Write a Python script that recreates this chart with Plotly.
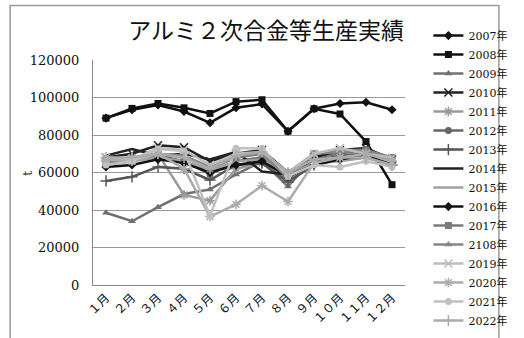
import plotly.graph_objects as go

# 月次カテゴリ
months = ["１月", "２月", "３月", "４月", "５月", "６月",
          "７月", "８月", "９月", "１０月", "１１月", "１２月"]

# 年別生産量 (t)
y2007 = [89000, 93500, 96000, 92500, 86500, 94500, 96500, 82000, 94000, 96800, 97500, 93500]
y2008 = [89000, 94200, 96800, 94500, 91500, 97800, 98800, 82000, 94000, 91200, 76500, 53500]
y2009 = [38500, 34000, 41500, 48500, 51000, 59000, 66000, 52500, 68000, 70000, 72000, 66000]
y2010 = [68000, 70000, 74500, 73500, 66000, 70000, 72000, 60000, 68000, 72000, 73000, 67000]
y2011 = [66000, 68000, 70000, 48000, 45000, 62000, 65000, 56000, 66000, 69000, 71000, 66000]
y2012 = [64000, 66000, 69000, 66000, 59000, 66000, 68000, 57000, 66000, 69000, 70000, 66000]
y2013 = [55500, 57700, 63000, 62000, 56000, 64000, 65000, 55000, 64000, 67000, 68000, 64000]
y2014 = [69000, 72500, 69000, 70000, 67000, 71000, 60500, 59000, 67000, 68000, 70000, 68000]
y2015 = [65000, 66000, 68000, 66000, 61000, 66000, 67000, 59000, 65000, 66000, 68000, 65000]
y2016 = [63000, 64000, 67000, 65000, 60000, 64000, 66000, 58000, 64000, 67000, 69000, 64000]
y2017 = [66000, 67000, 70000, 68000, 62000, 68000, 70000, 60000, 70000, 72000, 72000, 68000]
y2018 = [65000, 67000, 70000, 69000, 63000, 69000, 70000, 57000, 70000, 71000, 72000, 67000]
y2019 = [68000, 67000, 73000, 72000, 64000, 70000, 71000, 60000, 70000, 73000, 70000, 68000]
y2020 = [67000, 66000, 70000, 62000, 36500, 43000, 53000, 44500, 65000, 68000, 70000, 66000]
y2021 = [64000, 66000, 72500, 71500, 37000, 73000, 73000, 58000, 64000, 63000, 66000, 63000]
y2022 = [68000, 68000, 70000, 68000, 62000, 69000, 71000, 60000, 67000, 68000, 68000, 64000]

series = [
    ("2007年", y2007, "#111111", "diamond"),
    ("2008年", y2008, "#111111", "square"),
    ("2009年", y2009, "#707070", "triangle-up"),
    ("2010年", y2010, "#222222", "x-thin"),
    ("2011年", y2011, "#9a9a9a", "asterisk"),
    ("2012年", y2012, "#666666", "circle"),
    ("2013年", y2013, "#555555", "cross-thin"),
    ("2014年", y2014, "#222222", None),
    ("2015年", y2015, "#a0a0a0", None),
    ("2016年", y2016, "#111111", "diamond"),
    ("2017年", y2017, "#7a7a7a", "square"),
    ("2108年", y2018, "#858585", "triangle-up"),
    ("2019年", y2019, "#bdbdbd", "x-thin"),
    ("2020年", y2020, "#acacac", "asterisk"),
    ("2021年", y2021, "#c0c0c0", "circle"),
    ("2022年", y2022, "#ababab", "cross-thin"),
]

SERIF = "'DejaVu Serif', 'Noto Sans CJK JP', serif"

fig = go.Figure()
for name, vals, color, sym in series:
    if sym is None:
        mode = "lines"
        marker = None
    else:
        mode = "lines+markers"
        thin = sym in ("x-thin", "asterisk", "cross-thin")
        marker = dict(symbol=sym, size=8 if thin else 7, color=color,
                      line=dict(color=color, width=1.5 if thin else 0))
    fig.add_trace(go.Scatter(
        x=months, y=vals, name=name, mode=mode,
        line=dict(color=color, width=2.5),
        marker=marker,
    ))

L, R, T, B = 93, 432, 60, 287
W, H = 524, 338

fig.update_layout(
    width=W, height=H,
    margin=dict(l=L, r=W - R, t=T, b=H - B),
    paper_bgcolor="white",
    plot_bgcolor="white",
    font=dict(family=SERIF, color="#111111", size=11),
    title=dict(
        text="アルミ２次合金等生産実績",
        x=0.508, xanchor="center", xref="container",
        y=1 - 31 / H, yanchor="middle", yref="container",
        font=dict(family=SERIF, size=23, color="#111111"),
    ),
    showlegend=True,
    legend=dict(
        x=1.075, xanchor="left", y=1.173, yanchor="top",
        font=dict(family=SERIF, size=11, color="#111111"),
        bgcolor="rgba(0,0,0,0)",
        tracegroupgap=0,
        maxheight=1,
    ),
    xaxis=dict(
        type="category",
        tickangle=-45,
        showgrid=False,
        showline=True, linecolor="#888888", linewidth=1,
        ticks="",
        tickfont=dict(family=SERIF, size=12, color="#111111"),
        range=[-0.5, 11.5],
    ),
    yaxis=dict(
        range=[0, 120000],
        dtick=20000,
        tickformat="d",
        showgrid=True, gridcolor="#9a9a9a", gridwidth=1,
        showline=True, linecolor="#888888", linewidth=1,
        zeroline=False,
        ticks="",
        ticklabelstandoff=10,
        tickfont=dict(family=SERIF, size=13, color="#111111"),
    ),
    annotations=[
        dict(text="t", textangle=-90, x=(22 - L) / (R - L), y=(B - 174) / (B - T),
             xref="paper", yref="paper", xanchor="center", yanchor="middle",
             showarrow=False,
             font=dict(family=SERIF, size=12, color="#111111")),
    ],
    shapes=[
        dict(type="rect", xref="paper", yref="paper",
             x0=(3 - L) / (R - L), x1=(W + 10 - L) / (R - L),
             y0=(B - (H + 10)) / (B - T), y1=(B - 5) / (B - T),
             line=dict(color="#9a9a9a", width=1.5), fillcolor="rgba(0,0,0,0)",
             layer="below"),
    ],
)

fig.write_html("out.html")
